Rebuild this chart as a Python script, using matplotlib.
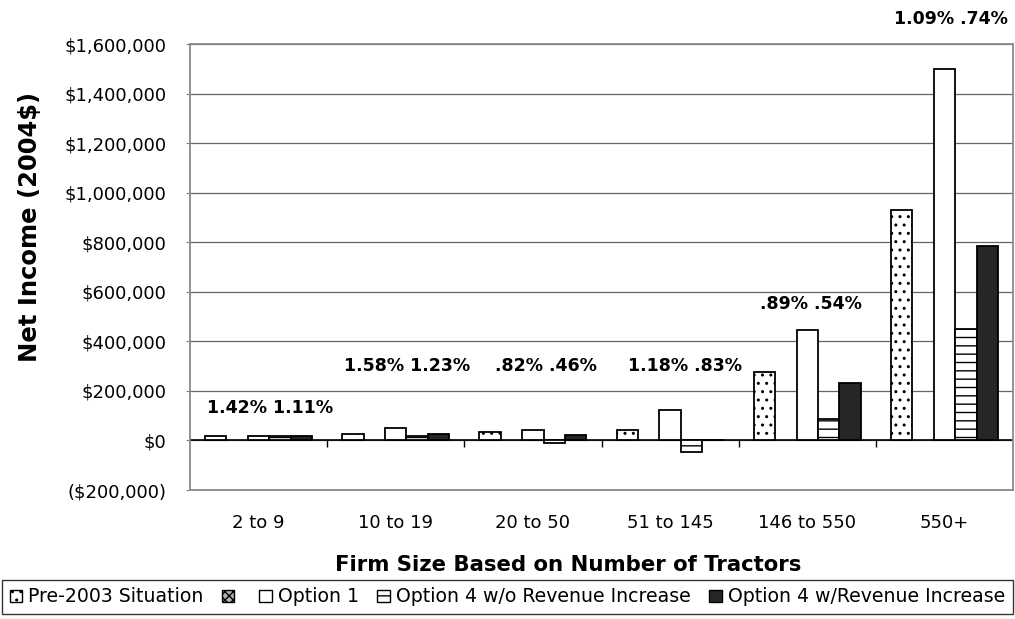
import numpy as np
import matplotlib
matplotlib.use("Agg")
import matplotlib.pyplot as plt
from matplotlib.patches import Patch

# ---------------- data ----------------
categories = ["2 to 9", "10 to 19", "20 to 50", "51 to 145", "146 to 550", "550+"]
pre2003 = [18000, 28000, 36000, 43000, 278000, 930000]
unnamed = [np.nan, np.nan, np.nan, np.nan, np.nan, np.nan]
option1 = [18000, 50000, 44000, 124000, 447000, 1500000]
opt4_wo = [18000, 18000, -9000, -46000, 88000, 448000]
opt4_w = [18000, 28000, 20000, 0, 230000, 786000]
series_labels = ["Pre-2003 Situation", "", "Option 1",
                 "Option 4 w/o Revenue Increase", "Option 4 w/Revenue Increase"]
annot_text = ["1.42% 1.11%", "1.58% 1.23%", ".82% .46%", "1.18% .83%",
              ".89% .54%", "1.09% .74%"]
ytick_values = [-200000, 0, 200000, 400000, 600000, 800000, 1000000,
                1200000, 1400000, 1600000]
ytick_labels = ["($200,000)", "$0", "$200,000", "$400,000", "$600,000",
                "$800,000", "$1,000,000", "$1,200,000", "$1,400,000",
                "$1,600,000"]

plt.rcParams["font.family"] = ["DejaVu Sans"]
plt.rcParams["hatch.linewidth"] = 1.0

fig = plt.figure(figsize=(10.15, 6.19), dpi=100)
ax = fig.add_axes([190 / 1015, 1 - 490 / 619, 823 / 1015, 446 / 619])

x = np.arange(len(categories))
w = 0.156
styles = [
    dict(facecolor="white", hatch="..", edgecolor="black"),
    dict(facecolor="#b0b0b0", hatch="xxxx", edgecolor="black"),
    dict(facecolor="white", hatch=None, edgecolor="black"),
    dict(facecolor="white", hatch="--", edgecolor="black"),
    dict(facecolor="#262626", hatch=None, edgecolor="black"),
]
all_series = [pre2003, unnamed, option1, opt4_wo, opt4_w]
for k, (vals, st) in enumerate(zip(all_series, styles)):
    ax.bar(x + (k - 2) * w, vals, width=w, linewidth=1.3, zorder=3, **st)

ax.set_xlim(-0.5, len(categories) - 0.5)
ax.set_ylim(-200000, 1600000)
ax.set_yticks(ytick_values)
ax.set_yticklabels(ytick_labels, fontsize=13)
ax.yaxis.grid(True, color="#666666", linewidth=0.9, zorder=0)
ax.set_axisbelow(True)
ax.tick_params(axis="y", length=3, pad=14, color="#808080")

ax.set_xticks(x)
ax.set_xticklabels(categories, fontsize=13)
ax.tick_params(axis="x", length=0, pad=17)

for sp in ax.spines.values():
    sp.set_color("#8a8a8a")
    sp.set_linewidth(1.3)

# zero line with category boundary ticks
ax.axhline(0, color="black", linewidth=1.2, zorder=2)
zero_frac = (0 - (-200000)) / (1600000 - (-200000))
sec = ax.secondary_xaxis(zero_frac)
sec.set_xticks(x[:-1] + 0.5)
sec.set_xticklabels([""] * (len(categories) - 1))
sec.tick_params(length=5, width=1.0, color="black", direction="out")
sec.spines["bottom"].set_visible(False)
sec.spines["top"].set_visible(False)

# annotations
annot_dx = [0.083, 0.082, 0.095, 0.109, 0.027, 0.048]
annot_y = [129000, 299000, 299000, 299000, 549000, 1699000]
for i, (t, dx, yy) in enumerate(zip(annot_text, annot_dx, annot_y)):
    ax.text(x[i] + dx, yy, t, ha="center", va="center", fontsize=12.5,
            fontweight="bold", clip_on=False, zorder=5)

ax.set_xlabel("Firm Size Based on Number of Tractors", fontsize=15.3,
              fontweight="bold", va="center")
ax.xaxis.set_label_coords((568.5 - 190) / 823, (490 - 565) / 446)
ax.set_ylabel("Net Income (2004$)", fontsize=17.5, fontweight="bold",
              va="center", ha="center")
ax.yaxis.set_label_coords((30 - 190) / 823, (490 - 227) / 446)

handles = [Patch(linewidth=1.0, **st) for st in styles]
leg = fig.legend(handles=handles, labels=series_labels, ncol=5,
                 loc="lower left", bbox_to_anchor=(2 / 1015, 5 / 619, 1011 / 1015, 0.06),
                 mode="expand", fontsize=13.6, frameon=True, fancybox=False,
                 edgecolor="black", handlelength=0.65, handleheight=0.65,
                 handletextpad=0.35, columnspacing=0.4, borderpad=0.4,
                 borderaxespad=0)
leg.get_frame().set_linewidth(1.0)

fig.savefig("out.png", dpi=100)
